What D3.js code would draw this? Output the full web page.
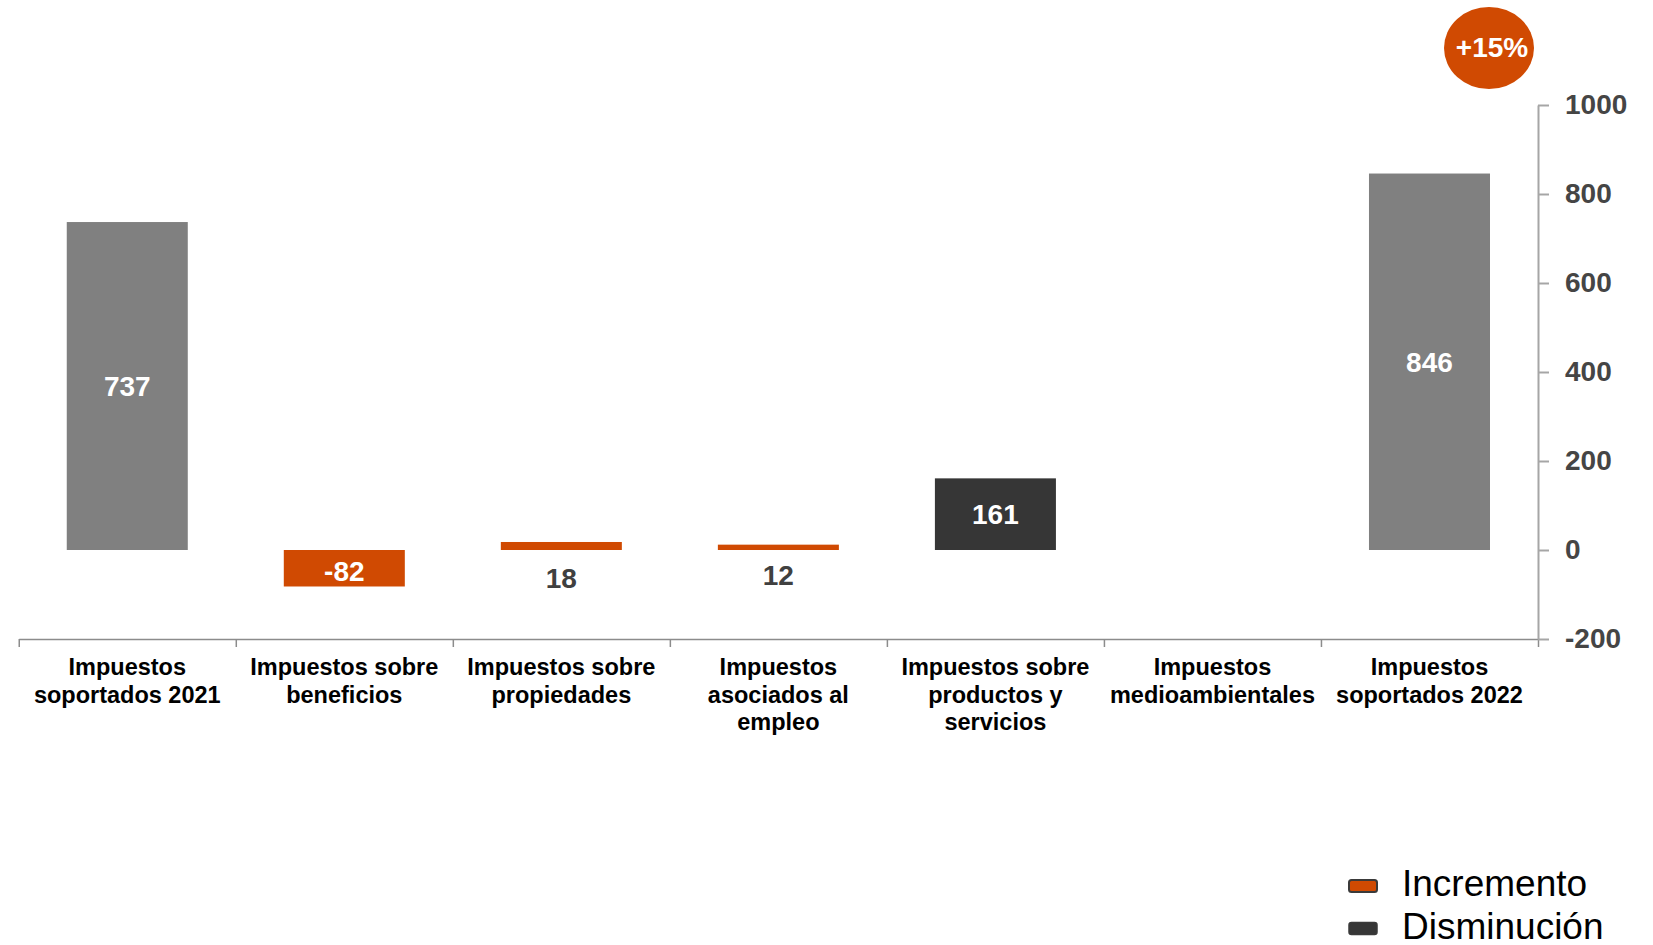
<!DOCTYPE html>
<html>
<head>
<meta charset="utf-8">
<script src="https://cdn.jsdelivr.net/npm/d3@7"></script>
<style>
  html, body { margin: 0; padding: 0; background: #ffffff; }
  svg { display: block; font-family: "Liberation Sans", Arial, sans-serif; }
</style>
</head>
<body>
<svg id="chart" width="1653" height="945"></svg>
<script>
// ---- data ----
const categories = [
  ["Impuestos", "soportados 2021"],
  ["Impuestos sobre", "beneficios"],
  ["Impuestos sobre", "propiedades"],
  ["Impuestos", "asociados al", "empleo"],
  ["Impuestos sobre", "productos y", "servicios"],
  ["Impuestos", "medioambientales"],
  ["Impuestos", "soportados 2022"]
];
const values = [737, -82, 18, 12, 161, 0, 846];
const kinds = ["total", "incremento", "incremento", "incremento", "disminucion", "incremento", "total"];
const yTicks = [-200, 0, 200, 400, 600, 800, 1000];
const badgeText = "+15%";
const legendLabels = ["Incremento", "Disminución"];
const legendKinds = ["incremento", "disminucion"];

// ---- styles ----
const colors = { total: "#808080", incremento: "#D04A02", disminucion: "#363636" };
const fmt = v => String(Math.round(v)); // plain hyphen-minus

const svg = d3.select("#chart");

const xLeft = 18.75, xRight = 1538;
const keys = d3.range(categories.length);
const pad = 1 - 121 / 217;
const x = d3.scaleBand().domain(keys).range([xLeft, xRight])
  .paddingInner(pad).paddingOuter(pad / 2);
const y = d3.scaleLinear().domain([-200, 1000]).range([639, 105]);

// boundary scale for x-axis ticks
const xb = d3.scaleLinear().domain([0, categories.length]).range([xLeft, xRight]);

// x axis
const gx = svg.append("g").attr("transform", `translate(0,${y(-200)})`)
  .call(d3.axisBottom(xb).tickValues(d3.range(categories.length + 1)).tickFormat("").tickSize(8).tickSizeOuter(0));
gx.select(".domain").attr("stroke", "#8c8c8c").attr("stroke-width", 1.5);
gx.selectAll(".tick line").attr("stroke", "#8c8c8c").attr("stroke-width", 1.5);

// y axis (right)
const gy = svg.append("g").attr("transform", `translate(${xRight},0)`)
  .call(d3.axisRight(y).tickValues(yTicks).tickSize(11).tickSizeOuter(0).tickPadding(16).tickFormat(fmt));
gy.select(".domain").attr("stroke", "#a6a6a6").attr("stroke-width", 2);
gy.selectAll(".tick line").attr("stroke", "#a6a6a6").attr("stroke-width", 2);
gy.selectAll(".tick text")
  .attr("font-family", "Liberation Sans, Arial, sans-serif")
  .attr("font-size", 28).attr("font-weight", "bold").attr("fill", "#454545");

// bars
svg.append("g").selectAll("rect").data(keys.filter(i => values[i] !== 0)).join("rect")
  .attr("x", i => x(i))
  .attr("width", x.bandwidth())
  .attr("y", i => y(Math.max(0, values[i])))
  .attr("height", i => Math.abs(y(values[i]) - y(0)))
  .attr("fill", i => colors[kinds[i]]);

// value labels
svg.append("g").selectAll("text").data(keys.filter(i => values[i] !== 0)).join("text")
  .attr("x", i => x(i) + x.bandwidth() / 2)
  .attr("y", i => Math.abs(values[i]) > 50 ? y(values[i] / 2) + (values[i] < 0 ? 3 : 0) : y(-values[i]) + 20)
  .attr("dy", "0.36em")
  .attr("text-anchor", "middle")
  .attr("font-size", 28).attr("font-weight", "bold")
  .attr("fill", i => Math.abs(values[i]) > 50 ? "#ffffff" : "#404040")
  .text(i => fmt(values[i]));

// category labels
const cl = svg.append("g").selectAll("text").data(keys).join("text")
  .attr("text-anchor", "middle")
  .attr("font-size", 23.5).attr("font-weight", "bold").attr("fill", "#000");
cl.each(function(i) {
  const t = d3.select(this);
  categories[i].forEach((line, k) => {
    t.append("tspan")
      .attr("x", x(i) + x.bandwidth() / 2)
      .attr("y", 675 + k * 27.5)
      .text(line);
  });
});

// badge
svg.append("ellipse").attr("cx", 1489).attr("cy", 48).attr("rx", 45).attr("ry", 41).attr("fill", "#D04A02");
svg.append("text").attr("x", 1492).attr("y", 47).attr("dy", "0.36em")
  .attr("text-anchor", "middle").attr("font-size", 28).attr("font-weight", "bold").attr("fill", "#fff")
  .text(badgeText);

// legend
const lg = svg.append("g");
legendLabels.forEach((lab, k) => {
  const yy = 896 + k * 42.5;
  lg.append("rect").attr("x", 1349).attr("y", yy - 16).attr("width", 28).attr("height", 12)
    .attr("rx", 2.5).attr("fill", colors[legendKinds[k]])
    .attr("stroke", "#3a3a3a").attr("stroke-width", k === 0 ? 2 : 1.5);
  lg.append("text").attr("x", 1402).attr("y", yy)
    .attr("font-size", 37).attr("fill", "#000").text(lab);
});
</script>
</body>
</html>
